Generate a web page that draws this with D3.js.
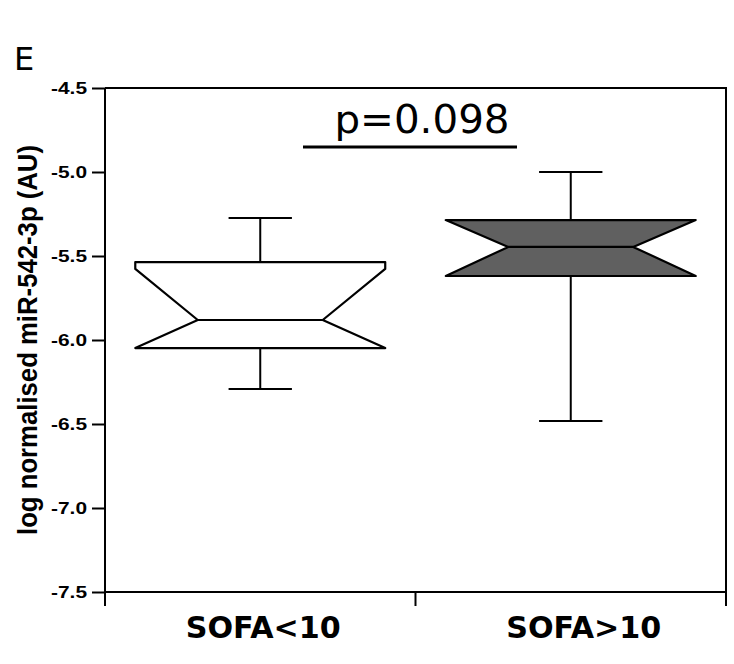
<!DOCTYPE html>
<html>
<head>
<meta charset="utf-8">
<script src="https://cdn.jsdelivr.net/npm/d3@7"></script>
<style>
  html, body { margin: 0; padding: 0; background: #fff; }
  svg { display: block; }
</style>
</head>
<body>
<svg id="chart" width="734" height="664"></svg>
<script>
// Groups and their notched box-plot statistics (log normalised miR-542-3p)
const categories = ["SOFA<10", "SOFA>10"];
const whiskerHigh = [-5.274, -5.0];
const upperQuartile = [-5.536, -5.286];
const notchHigh = [-5.577, -5.286];
const medians = [-5.881, -5.446];
const notchLow = [-6.048, -5.619];
const lowerQuartile = [-6.048, -5.619];
const whiskerLow = [-6.292, -6.482];
const boxFills = ["#ffffff", "#606060"];

const yTicks = [-4.5, -5.0, -5.5, -6.0, -6.5, -7.0, -7.5];
const yTickLabels = ["-4.5", "-5.0", "-5.5", "-6.0", "-6.5", "-7.0", "-7.5"];
const yTitle = "log normalised miR-542-3p (AU)";
const panelLetter = "E";
const pValueText = "p=0.098";

const svg = d3.select("#chart");
const plot = { left: 105, right: 726, top: 88, bottom: 592 };

const y = d3.scaleLinear().domain([-7.5, -4.5]).range([plot.bottom, plot.top]);
const x = d3.scaleBand().domain(categories).range([plot.left, plot.right]).padding(0);
const bw = x.bandwidth();
const boxW = bw * 0.805;
const notchW = boxW * 0.5;
const capW = bw * 0.204;

// Frame: top and right edges
svg.append("path")
  .attr("d", `M${plot.left},${plot.top}H${plot.right}V${plot.bottom}`)
  .attr("fill", "none").attr("stroke", "#000").attr("stroke-width", 2);

// Y axis
const yAxis = svg.append("g")
  .attr("transform", `translate(${plot.left},0)`)
  .call(d3.axisLeft(y).tickValues(yTicks).tickSize(13).tickPadding(5)
    .tickFormat((d, i) => yTickLabels[i]));
yAxis.select(".domain").attr("stroke-width", 2).attr("d", `M0,${plot.top}V${plot.bottom}`);
yAxis.selectAll(".tick line").attr("stroke-width", 2);
yAxis.selectAll(".tick text")
  .attr("font-family", "Liberation Sans, Arial, sans-serif")
  .attr("font-weight", "bold").attr("font-size", 17).attr("fill", "#000")
  .attr("dy", "0.34em")
  .attr("textLength", 36).attr("lengthAdjust", "spacingAndGlyphs");

// X axis: baseline, ticks at group boundaries, labels under each group
svg.append("line")
  .attr("x1", plot.left).attr("x2", plot.right)
  .attr("y1", plot.bottom).attr("y2", plot.bottom)
  .attr("stroke", "#000").attr("stroke-width", 2);
const boundaries = [plot.left].concat(categories.map(c => x(c) + bw));
svg.selectAll(".xtick").data(boundaries).join("line")
  .attr("class", "xtick")
  .attr("x1", d => d).attr("x2", d => d)
  .attr("y1", plot.bottom).attr("y2", plot.bottom + 14)
  .attr("stroke", "#000").attr("stroke-width", 2);
const labelShift = [3, 13];
svg.selectAll(".xlabel").data(categories).join("text")
  .attr("class", "xlabel")
  .attr("x", (d, i) => x(d) + bw / 2 + labelShift[i])
  .attr("y", 638)
  .attr("text-anchor", "middle")
  .attr("font-family", "DejaVu Sans, sans-serif")
  .attr("font-weight", "bold").attr("font-size", 30).attr("fill", "#000")
  .attr("textLength", 155).attr("lengthAdjust", "spacingAndGlyphs")
  .text(d => d);

// Y axis title
svg.append("text")
  .attr("transform", `translate(37,${(plot.top + plot.bottom) / 2}) rotate(-90)`)
  .attr("text-anchor", "middle")
  .attr("font-family", "Liberation Sans, Arial, sans-serif")
  .attr("font-weight", "bold").attr("font-size", 27).attr("fill", "#000")
  .attr("textLength", 390).attr("lengthAdjust", "spacingAndGlyphs")
  .text(yTitle);

// Panel letter
svg.append("text")
  .attr("x", 14).attr("y", 70)
  .attr("font-family", "DejaVu Sans, sans-serif")
  .attr("font-size", 32).attr("fill", "#000")
  .text(panelLetter);

// Notched boxes with whiskers
const groups = categories.map((c, i) => ({
  cat: c, hi: whiskerHigh[i], q3: upperQuartile[i], nHi: notchHigh[i],
  med: medians[i], nLo: notchLow[i], q1: lowerQuartile[i], lo: whiskerLow[i],
  fill: boxFills[i]
}));

const g = svg.selectAll(".box").data(groups).join("g").attr("class", "box");

g.each(function(d) {
  const sel = d3.select(this);
  const cx = x(d.cat) + bw / 2;
  const xL = cx - boxW / 2, xR = cx + boxW / 2;
  const nL = cx - notchW / 2, nR = cx + notchW / 2;

  // whiskers
  [[d.q3, d.hi], [d.q1, d.lo]].forEach(([a, b]) => {
    sel.append("line").attr("x1", cx).attr("x2", cx)
      .attr("y1", y(a)).attr("y2", y(b))
      .attr("stroke", "#000").attr("stroke-width", 2);
    sel.append("line").attr("x1", cx - capW / 2).attr("x2", cx + capW / 2)
      .attr("y1", y(b)).attr("y2", y(b))
      .attr("stroke", "#000").attr("stroke-width", 2);
  });

  const pts = [
    [xL, y(d.q3)], [xR, y(d.q3)], [xR, y(d.nHi)], [nR, y(d.med)],
    [xR, y(d.nLo)], [xR, y(d.q1)], [xL, y(d.q1)], [xL, y(d.nLo)],
    [nL, y(d.med)], [xL, y(d.nHi)]
  ];
  sel.append("path")
    .attr("d", d3.line()(pts) + "Z")
    .attr("fill", d.fill).attr("stroke", "#000").attr("stroke-width", 2.2)
    .attr("stroke-linejoin", "round");
  sel.append("line").attr("x1", nL).attr("x2", nR)
    .attr("y1", y(d.med)).attr("y2", y(d.med))
    .attr("stroke", "#000").attr("stroke-width", 2.2);
});

// Significance annotation
svg.append("line")
  .attr("x1", 303).attr("x2", 517).attr("y1", 147).attr("y2", 147)
  .attr("stroke", "#000").attr("stroke-width", 3);
svg.append("text")
  .attr("x", 422).attr("y", 133)
  .attr("text-anchor", "middle")
  .attr("font-family", "DejaVu Sans, sans-serif")
  .attr("font-size", 39).attr("fill", "#000")
  .attr("textLength", 175).attr("lengthAdjust", "spacingAndGlyphs")
  .text(pValueText);
</script>
</body>
</html>
